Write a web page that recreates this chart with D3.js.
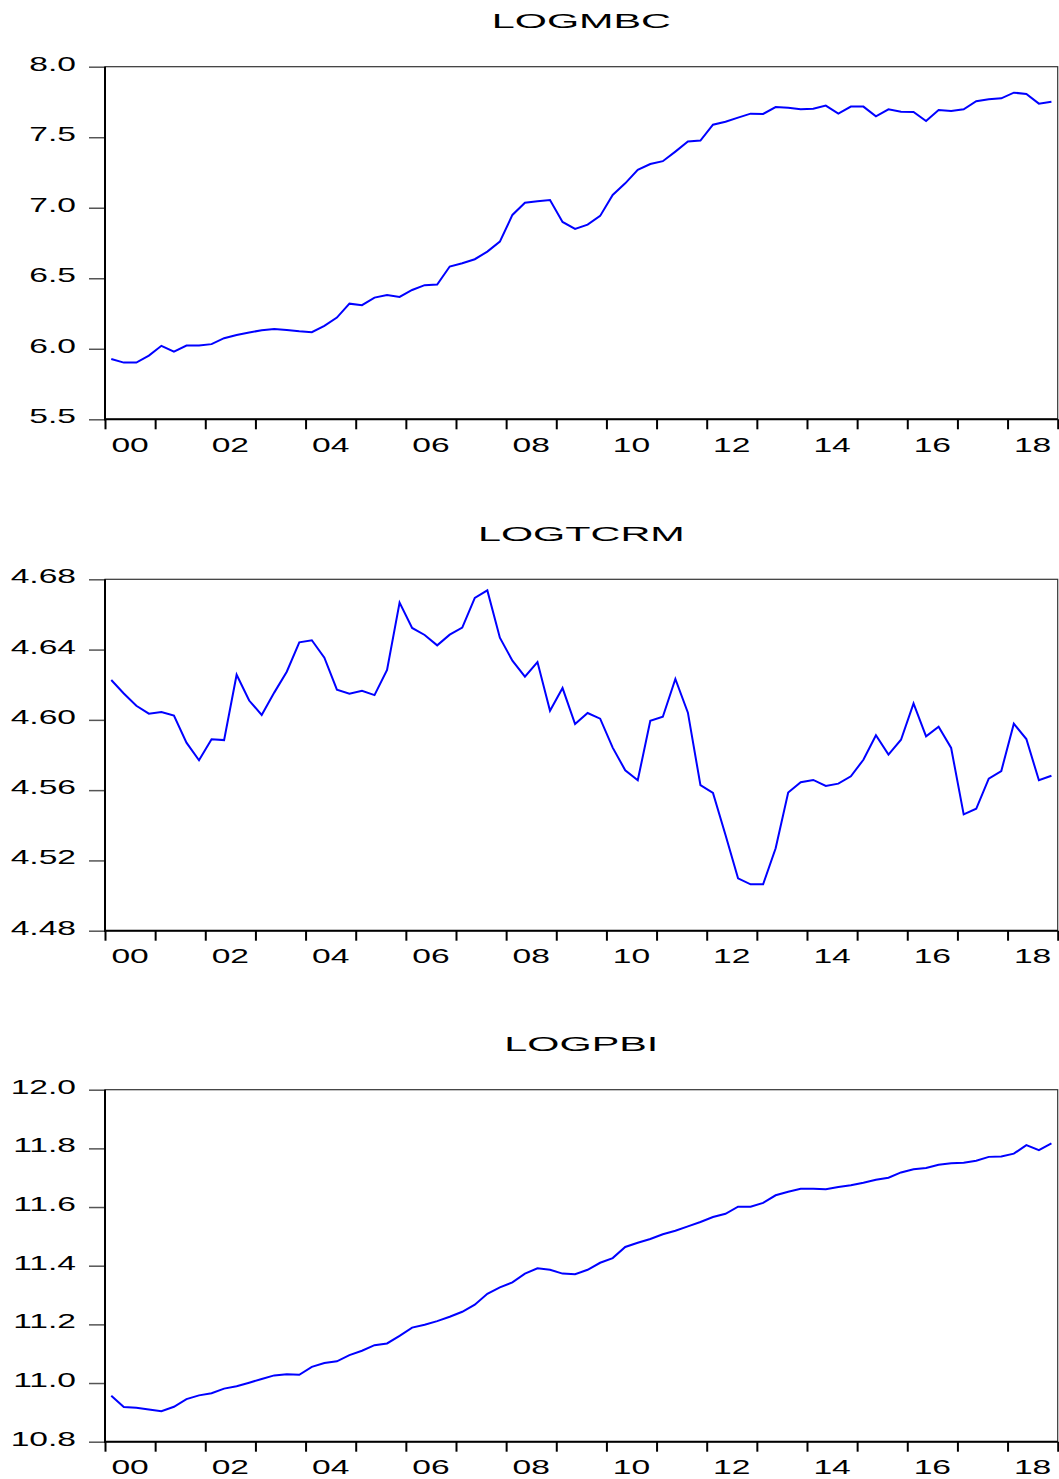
<!DOCTYPE html>
<html>
<head>
<meta charset="utf-8">
<script src="https://cdn.jsdelivr.net/npm/d3@7"></script>
<style>
  html, body { margin: 0; padding: 0; background: #fff; }
  svg { display: block; }
  text { font-family: "Liberation Sans", Arial, sans-serif; fill: #000; }
</style>
</head>
<body>
<script>
// ---------- DATA ----------
const years = [2000, 2001, 2002, 2003, 2004, 2005, 2006, 2007, 2008, 2009,
               2010, 2011, 2012, 2013, 2014, 2015, 2016, 2017, 2018];
const quarterNames = ["Q1", "Q2", "Q3", "Q4"];
const periods = years.flatMap(y => quarterNames.map(q => y + q));

const yearLabels = ["00", "02", "04", "06", "08", "10", "12", "14", "16", "18"];
const yearLabelYears = [2000, 2002, 2004, 2006, 2008, 2010, 2012, 2014, 2016, 2018];

const logmbc = [
  5.928, 5.902, 5.902, 5.952, 6.021, 5.980, 6.023, 6.023, 6.033, 6.075,
  6.098, 6.115, 6.132, 6.141, 6.134, 6.125, 6.118, 6.162, 6.221, 6.320,
  6.309, 6.363, 6.382, 6.368, 6.417, 6.451, 6.455, 6.583, 6.607, 6.635,
  6.689, 6.760, 6.949, 7.036, 7.046, 7.055, 6.899, 6.850, 6.880, 6.942,
  7.091, 7.173, 7.268, 7.310, 7.330, 7.398, 7.469, 7.476, 7.589, 7.610,
  7.639, 7.667, 7.665, 7.714, 7.709, 7.698, 7.702, 7.724, 7.667, 7.717,
  7.717, 7.648, 7.698, 7.681, 7.679, 7.615, 7.693, 7.686, 7.698, 7.755,
  7.769, 7.776, 7.816, 7.807, 7.738, 7.752
];
const logtcrm = [
  4.6227, 4.6150, 4.6080, 4.6035, 4.6045, 4.6024, 4.5870, 4.5770, 4.5890, 4.5885,
  4.6257, 4.6110, 4.6028, 4.6155, 4.6274, 4.6441, 4.6453, 4.6354, 4.6172, 4.6149,
  4.6166, 4.6141, 4.6284, 4.6667, 4.6523, 4.6483, 4.6424, 4.6485, 4.6525, 4.6694,
  4.6737, 4.6468, 4.6337, 4.6246, 4.6329, 4.6052, 4.6181, 4.5976, 4.6039, 4.6007,
  4.5842, 4.5713, 4.5656, 4.5995, 4.6018, 4.6233, 4.6041, 4.5628, 4.5584, 4.5345,
  4.5098, 4.5064, 4.5064, 4.5269, 4.5586, 4.5645, 4.5658, 4.5624, 4.5637, 4.5679,
  4.5773, 4.5912, 4.5802, 4.5887, 4.6094, 4.5906, 4.5961, 4.5840, 4.5462, 4.5494,
  4.5665, 4.5709, 4.5978, 4.5891, 4.5656, 4.5682
];
const logpbi = [
  10.957, 10.918, 10.916, 10.910, 10.904, 10.919, 10.945, 10.958, 10.965, 10.981,
  10.989, 11.001, 11.014, 11.026, 11.030, 11.028, 11.055, 11.068, 11.074, 11.095,
  11.110, 11.129, 11.135, 11.161, 11.189, 11.199, 11.211, 11.226, 11.243, 11.267,
  11.304, 11.326, 11.343, 11.373, 11.391, 11.386, 11.373, 11.371, 11.386, 11.410,
  11.426, 11.464, 11.478, 11.491, 11.507, 11.519, 11.534, 11.549, 11.566, 11.577,
  11.601, 11.601, 11.614, 11.640, 11.652, 11.662, 11.662, 11.661, 11.668, 11.674,
  11.683, 11.693, 11.700, 11.718, 11.729, 11.733, 11.744, 11.749, 11.751, 11.758,
  11.771, 11.772, 11.782, 11.811, 11.794, 11.817
];

const titles = ["LOGMBC", "LOGTCRM", "LOGPBI"];
const mbcTicks = [5.5, 6.0, 6.5, 7.0, 7.5, 8.0];
const tcrmTicks = [4.48, 4.52, 4.56, 4.60, 4.64, 4.68];
const pbiTicks = [10.8, 11.0, 11.2, 11.4, 11.6, 11.8, 12.0];

// ---------- LAYOUT ----------
const W = 1059, H = 1479;
const left = 105, right = 1057.7;
const panels = [
  { title: titles[0], values: logmbc, ticks: mbcTicks, fmt: d3.format(".1f"), top: 66.7, bottom: 419.3 },
  { title: titles[1], values: logtcrm, ticks: tcrmTicks, fmt: d3.format(".2f"), top: 579.3, bottom: 930.7 },
  { title: titles[2], values: logpbi, ticks: pbiTicks, fmt: d3.format(".1f"), top: 1089.7, bottom: 1441.7 }
];
const LABEL_SX = 1.6, TITLE_SX = 1.97, FONT = 21;

const svg = d3.select("body").append("svg").attr("width", W).attr("height", H);

const x = d3.scaleLinear().domain([years[0], years[years.length - 1] + 1]).range([left, right]);
const periodPos = i => x(years[0] + (i + 0.5) / 4);

panels.forEach(p => {
  const g = svg.append("g");
  const ext = d3.extent(p.ticks);
  const y = d3.scaleLinear().domain(ext).range([p.bottom, p.top]);

  // title
  g.append("text")
    .attr("transform", `translate(${(left + right) / 2},${p.top - 38.7}) scale(${TITLE_SX},1)`)
    .attr("text-anchor", "middle")
    .style("font-size", FONT + "px")
    .text(p.title);

  // frame (top/right thin)
  g.append("rect")
    .attr("x", left).attr("y", p.top)
    .attr("width", right - left).attr("height", p.bottom - p.top)
    .attr("fill", "none").attr("stroke", "#333").attr("stroke-width", 1.2);

  // y axis ticks
  const yAxis = d3.axisLeft(y).tickValues(p.ticks).tickSize(16).tickFormat("");
  const ya = g.append("g").attr("transform", `translate(${left},0)`).call(yAxis);
  ya.select(".domain").remove();
  ya.selectAll(".tick line").attr("stroke", "#555").attr("stroke-width", 1.5);

  // y labels
  g.selectAll(".ylab").data(p.ticks).enter().append("text")
    .attr("transform", d => `translate(76,${y(d) + 4}) scale(${LABEL_SX},1)`)
    .attr("text-anchor", "end")
    .style("font-size", FONT + "px")
    .text(d => p.fmt(d));

  // x axis ticks (each year boundary)
  const xTickVals = years.concat([years[years.length - 1] + 1]);
  const xAxis = d3.axisBottom(x).tickValues(xTickVals).tickSize(10).tickFormat("");
  const xa = g.append("g").attr("transform", `translate(0,${p.bottom})`).call(xAxis);
  xa.select(".domain").remove();
  xa.selectAll(".tick line").attr("stroke", "#000").attr("stroke-width", 2);

  // x labels
  g.selectAll(".xlab").data(yearLabels).enter().append("text")
    .attr("transform", (d, i) => `translate(${x(yearLabelYears[i] + 0.5)},${p.bottom + 32.4}) scale(${LABEL_SX},1)`)
    .attr("text-anchor", "middle")
    .style("font-size", FONT + "px")
    .text(d => d);

  // thick left & bottom axis lines
  g.append("line").attr("x1", left).attr("x2", left).attr("y1", p.top).attr("y2", p.bottom + 1)
    .attr("stroke", "#000").attr("stroke-width", 2);
  g.append("line").attr("x1", left - 1).attr("x2", right).attr("y1", p.bottom).attr("y2", p.bottom)
    .attr("stroke", "#000").attr("stroke-width", 2);

  // series line
  const line = d3.line().x((d, i) => periodPos(i)).y(d => y(d));
  g.append("path")
    .datum(p.values)
    .attr("d", line)
    .attr("fill", "none")
    .attr("stroke", "#0000ff")
    .attr("stroke-width", 2)
    .attr("stroke-linejoin", "miter");
});
</script>
</body>
</html>
